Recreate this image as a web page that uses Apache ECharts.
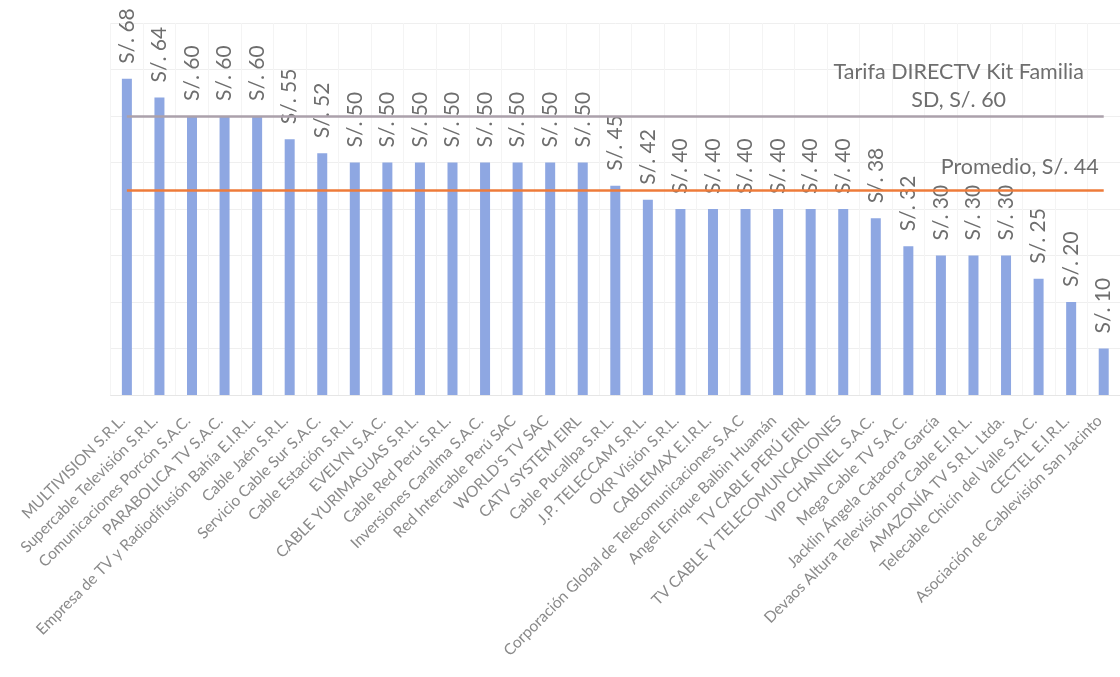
<!DOCTYPE html>
<html>
<head>
<meta charset="utf-8">
<script src="https://cdn.jsdelivr.net/npm/echarts@6/dist/echarts.min.js"></script>
<style>
  html, body { margin: 0; padding: 0; background: #ffffff; }
  #chart { width: 1120px; height: 677px; }
</style>
</head>
<body>
<div id="chart"></div>
<script>
const categories = [
  'MULTIVISION S.R.L.',
  'Supercable Televisión S.R.L.',
  'Comunicaciones Porcón S.A.C.',
  'PARABOLICA TV S.A.C.',
  'Empresa de TV y Radiodifusión Bahía E.I.R.L.',
  'Cable Jaén S.R.L.',
  'Servicio Cable Sur S.A.C.',
  'Cable Estación S.R.L.',
  'EVELYN S.A.C.',
  'CABLE YURIMAGUAS S.R.L.',
  'Cable Red Perú S.R.L.',
  'Inversiones Caralma S.A.C.',
  'Red Intercable Perú SAC',
  "WORLD'S TV SAC",
  'CATV SYSTEM EIRL',
  'Cable Pucallpa S.R.L.',
  'J.P. TELECCAM S.R.L.',
  'OKR Visión S.R.L.',
  'CABLEMAX E.I.R.L.',
  'Corporación Global de Telecomunicaciones S.A.C',
  'Angel Enrique Balbin Huamán',
  'TV CABLE PERÚ EIRL',
  'TV CABLE Y TELECOMUNCACIONES',
  'VIP CHANNEL S.A.C.',
  'Mega Cable TV S.A.C.',
  'Jacklin Ángela Catacora García',
  'Devaos Altura Televisión por Cable E.I.R.L.',
  'AMAZONÍA TV S.R.L. Ltda.',
  'Telecable Chicín del Valle S.A.C.',
  'CECTEL E.I.R.L.',
  'Asociación de Cablevisión San Jacinto'
];
const tarifas = [68, 64, 60, 60, 60, 55, 52, 50, 50, 50, 50, 50, 50, 50, 50, 45, 42, 40, 40, 40, 40, 40, 40, 38, 32, 30, 30, 30, 25, 20, 10];
const tarifaDirectv = 60;
const promedio = 44;
const tarifaLabel = 'Tarifa DIRECTV Kit Familia\nSD, S/. 60';
const promedioLabel = 'Promedio, S/. 44';

const FONT = 'Lato';
const chart = echarts.init(document.getElementById('chart'));
const first = categories[0];
const last = categories[categories.length - 1];

chart.setOption({
  animation: false,
  backgroundColor: '#ffffff',
  grid: { left: 110.6, right: -8.4, top: 23, bottom: 282, containLabel: false },
  xAxis: {
    type: 'category',
    data: categories,
    axisLine: { show: true, lineStyle: { color: '#e6e6e6', width: 1 } },
    axisTick: { show: false },
    axisLabel: {
      interval: 0,
      rotate: 45,
      margin: 19,
      padding: [0, 6, 0, 0],
      fontFamily: FONT,
      fontSize: 15.5,
      color: '#8a8a8a'
    },
    splitLine: { show: true, lineStyle: { color: '#f4f4f4', width: 1 } }
  },
  yAxis: {
    type: 'value',
    min: 0,
    max: 80,
    interval: 10,
    axisLine: { show: false },
    axisTick: { show: false },
    axisLabel: { show: false },
    splitLine: { show: true, lineStyle: { color: '#efefef', width: 1 } }
  },
  series: [{
    type: 'bar',
    data: tarifas,
    barWidth: 10,
    itemStyle: { color: '#8ea7e2' },
    label: {
      show: true,
      position: 'top',
      rotate: 90,
      align: 'left',
      verticalAlign: 'middle',
      distance: 15,
      fontFamily: FONT,
      fontSize: 21,
      color: '#6e6e6e',
      formatter: p => 'S/. ' + p.value
    },
    markLine: {
      silent: true,
      symbol: ['none', 'none'],
      data: [
        [
          { coord: [first, tarifaDirectv], lineStyle: { color: '#aba1ab', width: 2.5, type: 'solid' },
            label: { show: true, formatter: tarifaLabel, position: 'insideEndTop', align: 'center',
                     distance: [145, 2], fontFamily: FONT, fontSize: 21.5, lineHeight: 28, color: '#6e6e6e' } },
          { coord: [last, tarifaDirectv] }
        ],
        [
          { coord: [first, promedio], lineStyle: { color: '#ee7b3a', width: 2.5, type: 'solid' },
            label: { show: true, formatter: promedioLabel, position: 'insideEndTop', align: 'center',
                     distance: [84, 12], fontFamily: FONT, fontSize: 21.5, color: '#6e6e6e' } },
          { coord: [last, promedio] }
        ]
      ]
    }
  }]
});
</script>
</body>
</html>
